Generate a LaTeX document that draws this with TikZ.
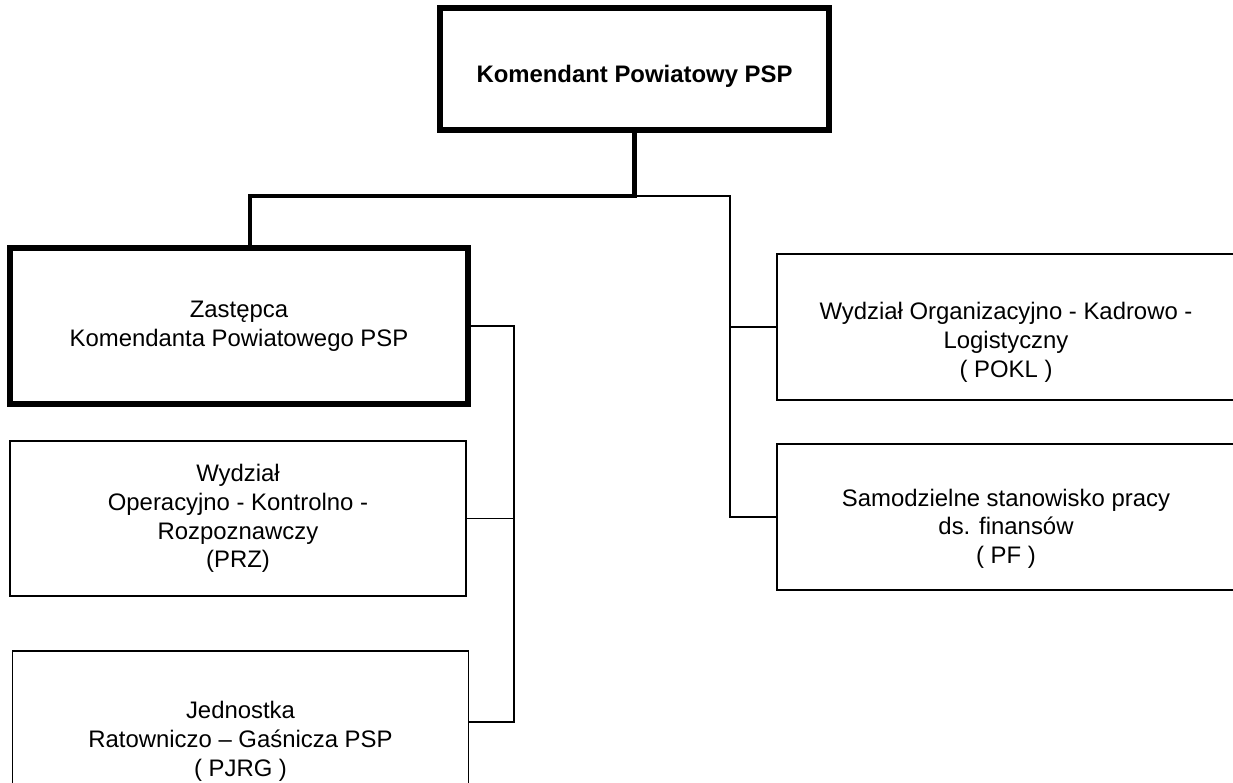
\documentclass[tikz,border=0pt]{standalone}
\usepackage{fontspec}
\setmainfont{Liberation Sans}
\usetikzlibrary{calc, positioning}

\begin{document}
\begin{tikzpicture}[x=0.02cm, y=-0.02cm,
                        font=\fontsize{13.6}{16.4}\selectfont,
                        box/.style={draw, rectangle, align=center, line width=1pt, inner sep=0pt},
                        chiefbox/.style={box, line width=3.2pt},
                        thinline/.style={line width=1.1pt},
                        thickline/.style={line width=2.4pt}]
                        \useasboundingbox (0, 0) rectangle (1233, 782);
                        \clip (0, 0) rectangle (1233, 782);
                        \node[chiefbox, minimum width=7.78cm, minimum height=2.44cm, text height=0.63cm] (kp) at (634.5, 69) {\bfseries Komendant Powiatowy PSP};
                        \node[chiefbox, minimum width=9.16cm, minimum height=3.12cm] (zast) at (239, 326) {Zastępca\\Komendanta Powiatowego PSP};
                        \node[box, minimum width=9.12cm, minimum height=3.1cm] (prz) at (238, 518.5) {Wydział\\Operacyjno - Kontrolno -\\Rozpoznawczy\\(PRZ)};
                        \node[box, minimum width=9.12cm, minimum height=3.6cm] (pjrg) at (240.5, 741) {Jednostka\\Ratowniczo – Gaśnicza PSP\\( PJRG )};
                        \node[box, minimum width=9.15cm, minimum height=2.92cm, text height=2.11cm] (pokl) at (1006, 327) {Wydział Organizacyjno - Kadrowo -\\Logistyczny\\( POKL )};
                        \node[box, minimum width=9.15cm, minimum height=2.92cm, text height=1.97cm] (pf) at (1006, 517) {Samodzielne stanowisko pracy\\ds. finansów\\( PF )};
                        \coordinate (top) at (633, 196);
                        \coordinate (zin) at (250, 196);
                        \coordinate (rj) at (730, 196);
                        \coordinate (lj) at (514, 0);
                        \draw[thickline]
                        (kp.south) -- (kp.south |- top) -- (zin) -- (zin |- zast.north);
                        \draw[thinline]
                        (kp.south |- top) -- (rj) |- (pf.west)
                        (rj |- pokl.west) -- (pokl.west);
                        \draw[thinline]
                        (zast.east) -- (zast.east -| lj) |- ([yshift=0.38cm]pjrg.east)
                        (prz.east) -- (prz.east -| lj);
                    \end{tikzpicture}
\end{document}
